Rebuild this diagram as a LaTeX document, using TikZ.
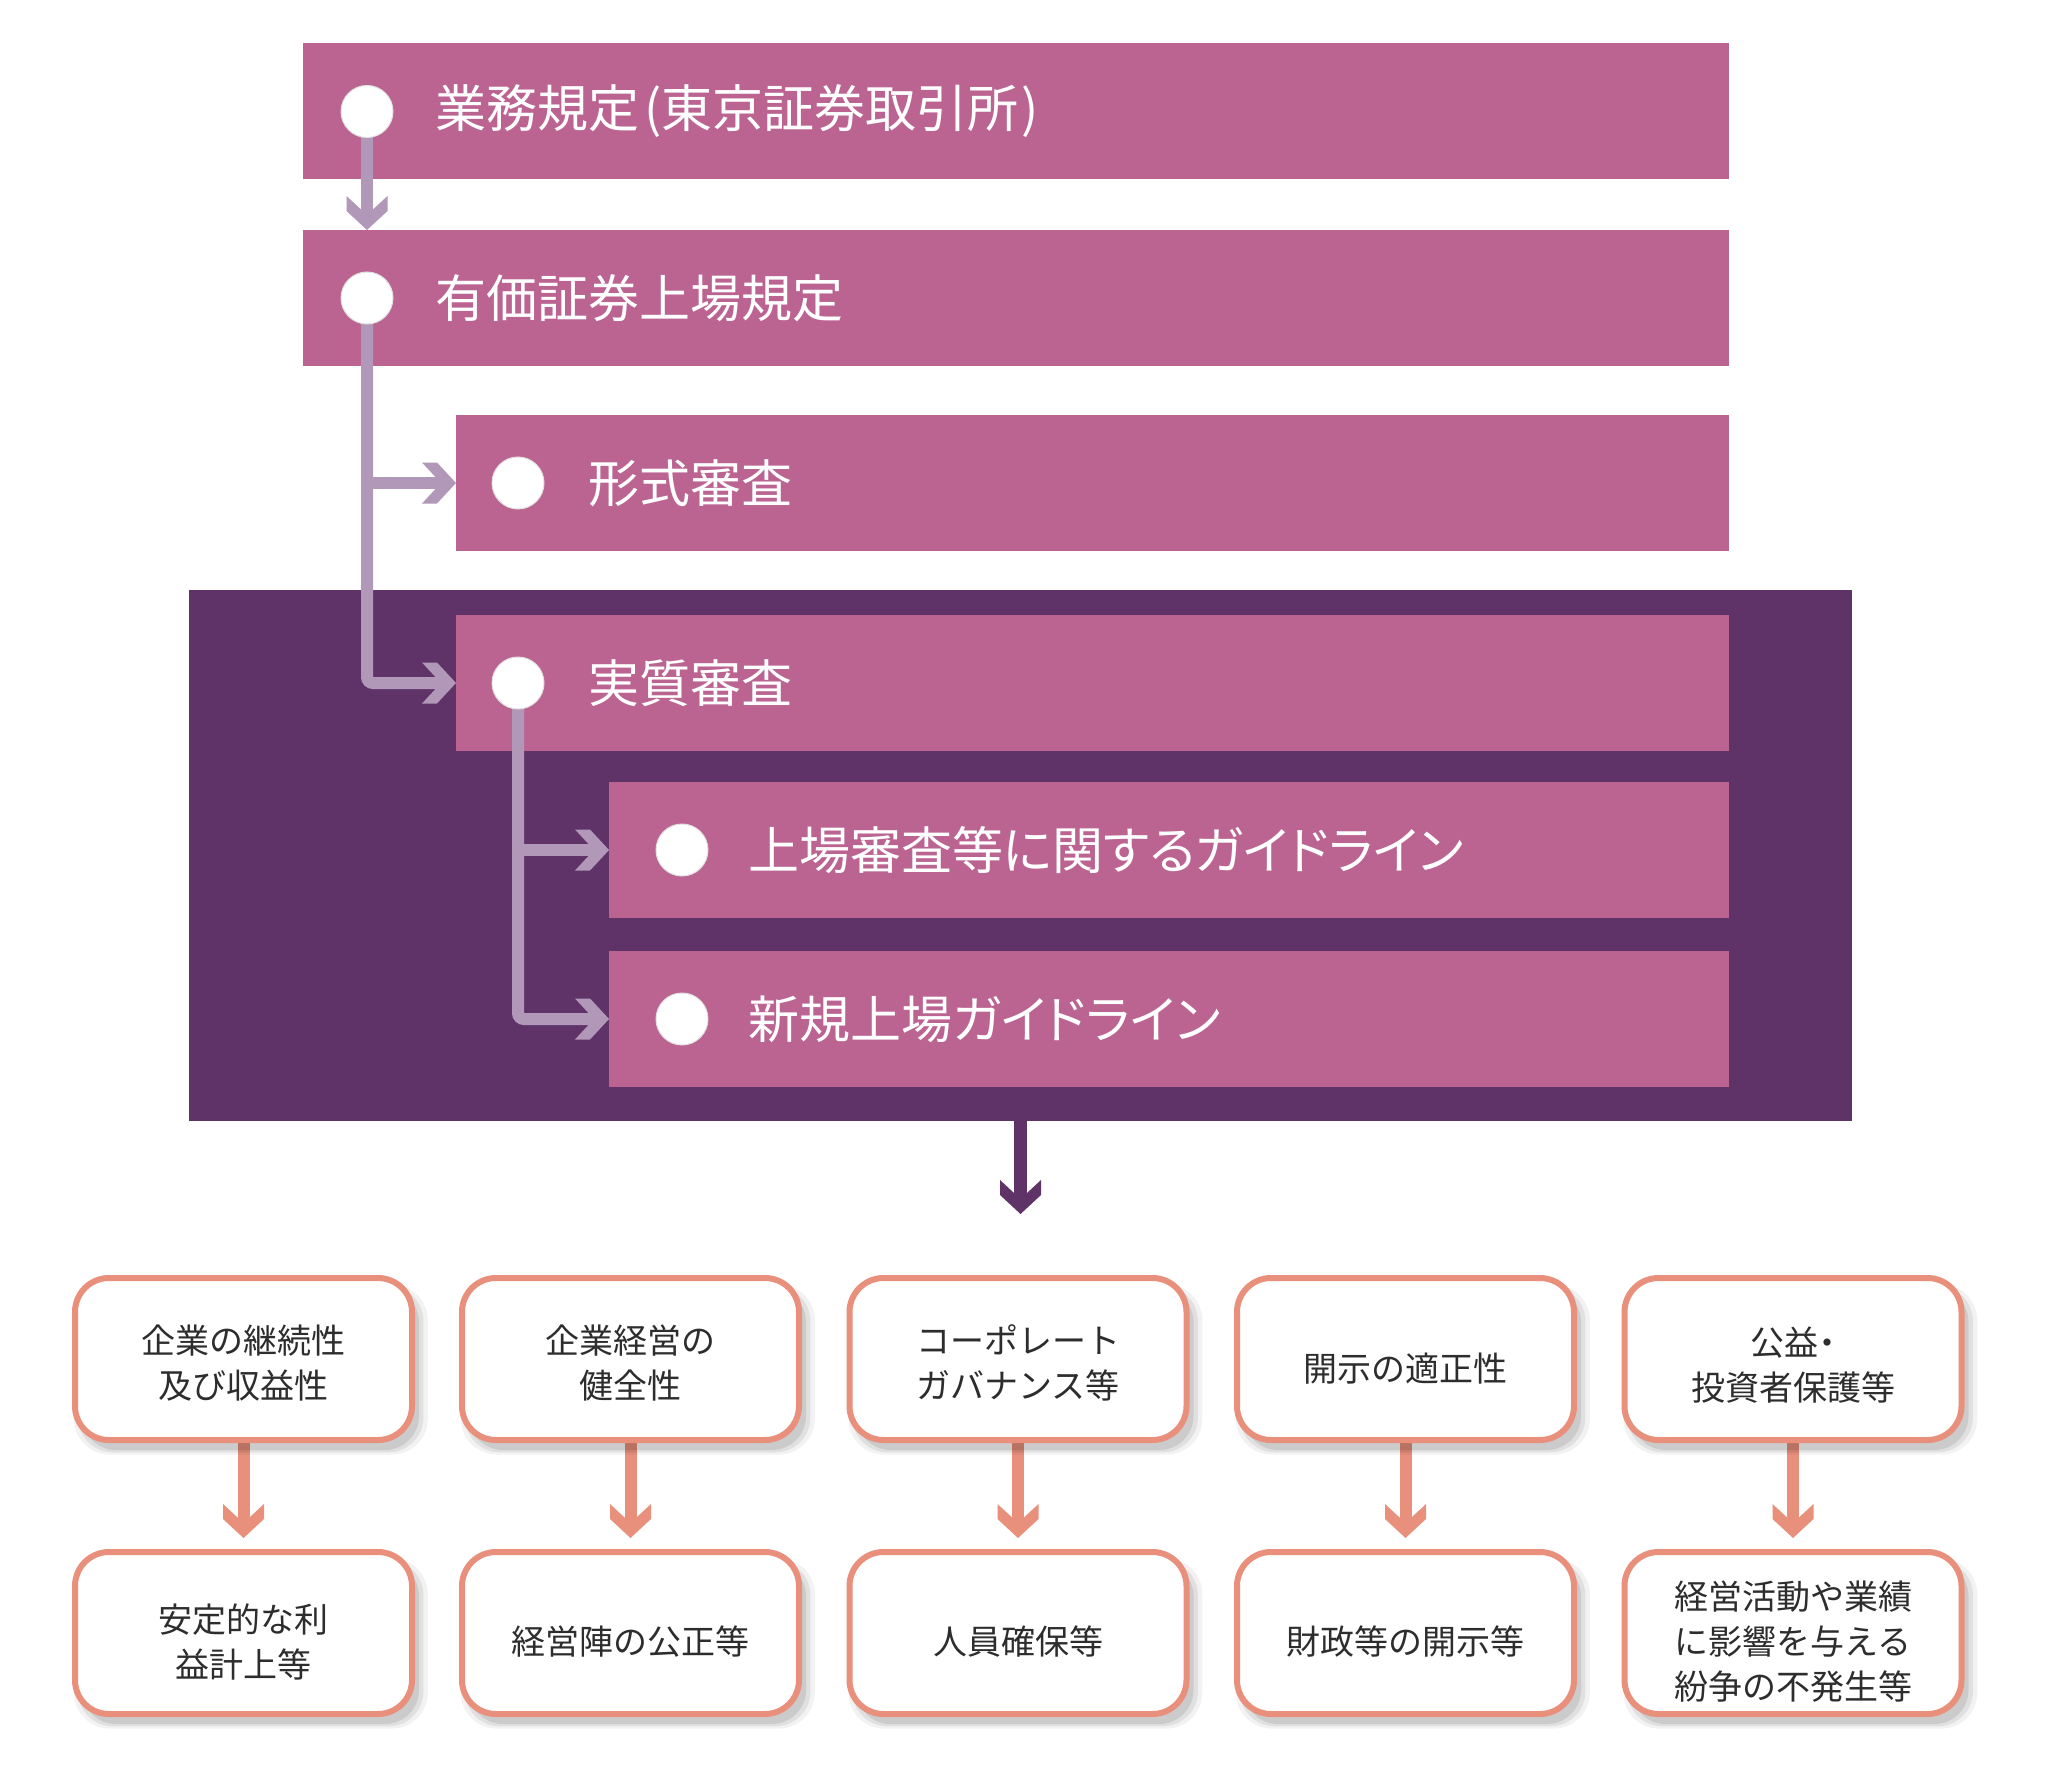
\documentclass[tikz,border=0pt]{standalone}
\usepackage{fontspec}
\setmainfont{Noto Sans CJK JP}
\usetikzlibrary{arrows.meta,shadows}
\pgfdeclarelayer{bg}
\pgfdeclarelayer{lines}
\pgfsetlayers{bg,lines,main}
\definecolor{pinkc}{RGB}{187,100,146}
\definecolor{darkc}{RGB}{96,51,104}
\definecolor{connc}{RGB}{178,152,184}
\definecolor{salmon}{RGB}{232,144,124}
\definecolor{txtc}{RGB}{45,45,45}
\newcommand{\paltx}{\addfontfeature{RawFeature=+palt}}
\pgfdeclarearrow{
  name = Chev,
  setup code = {
    \pgfarrowssettipend{0pt}
    \pgfarrowssetlineend{-15pt}
    \pgfarrowssetvisualbackend{-34pt}
    \pgfarrowsupperhullpoint{-34pt}{20.5pt}
    \pgfarrowsupperhullpoint{0pt}{0pt}
  },
  drawing code = {
    \pgfpathmoveto{\pgfpoint{0pt}{0pt}}
    \pgfpathlineto{\pgfpoint{-19pt}{20.5pt}}
    \pgfpathlineto{\pgfpoint{-34pt}{20.5pt}}
    \pgfpathlineto{\pgfpoint{-15pt}{0pt}}
    \pgfpathlineto{\pgfpoint{-34pt}{-20.5pt}}
    \pgfpathlineto{\pgfpoint{-19pt}{-20.5pt}}
    \pgfpathclose
    \pgfusepathqfill
  }
}
\begin{document}
\begin{tikzpicture}[x=1pt,y=-1pt,
  pbox/.style={fill=pinkc, inner sep=0pt, outer sep=0pt, minimum height=136pt, anchor=west},
  ptext/.style={anchor=west, inner sep=0pt, text=white, font=\fontsize{51}{60}\selectfont},
  dot/.style={circle, fill=white, draw=black!12, line width=1pt, minimum size=52pt, inner sep=0pt},
  conn/.style={draw=connc, line width=12pt, -Chev},
  darrow/.style={draw=darkc, line width=13pt, -Chev},
  sarrow/.style={draw=salmon, line width=12pt, -Chev, shorten >=11pt},
  softshadow/.style={
    general shadow={fill=black, opacity=0.05, shadow xshift=7pt, shadow yshift=-10pt, shadow scale=1.05},
    general shadow={fill=black, opacity=0.07, shadow xshift=7pt, shadow yshift=-10pt, shadow scale=1.025},
    general shadow={fill=black, opacity=0.09, shadow xshift=7pt, shadow yshift=-10pt}},
  sbox/.style={draw=salmon, line width=6pt, fill=white, rounded corners=34pt,
    minimum width=337pt, minimum height=162pt, softshadow},
  stext/.style={align=center, text=txtc, inner sep=0pt, font=\fontsize{34}{45}\selectfont}
]
\begin{pgfonlayer}{bg}
\fill[white] (0,0) rectangle (2048,1776);
\node[fill=darkc, inner sep=0pt, outer sep=0pt, minimum width=1663pt, minimum height=531pt] (dk) at (1020.5,855.5) {};
\node[pbox, minimum width=1426pt] (b1) at (303,111.5) {};
\node[pbox, minimum width=1426pt] (b2) at (303,298) {};
\node[pbox, minimum width=1273pt] (b3) at (456,483) {};
\node[pbox, minimum width=1273pt] (b4) at (456,683) {};
\node[pbox, minimum width=1120pt] (b5) at (609,850) {};
\node[pbox, minimum width=1120pt] (b6) at (609,1019) {};
\end{pgfonlayer}
\useasboundingbox (0,0) rectangle (2048,1776);

% circles and texts
\node[dot] (c1) at (367,111.5) {};
\node[dot] (c2) at (367,298) {};
\node[dot] (c3) at (518,483) {};
\node[dot] (c4) at (518,683) {};
\node[dot] (c5) at (682,850) {};
\node[dot] (c6) at (682,1019) {};
\node[ptext] (t1) at (435,111.5) {業務規定\kern5pt(東京証券取引所\kern3pt)};
\node[ptext] (t2) at (435,298) {有価証券上場規定};
\node[ptext] (t3) at (588,483) {形式審査};
\node[ptext] (t4) at (588,683) {実質審査};
\node[ptext, font=\fontsize{51}{60}\selectfont\paltx] (t5) at (748,850) {上場審査等に関するガイドライン};
\node[ptext, font=\fontsize{51}{60}\selectfont\paltx] (t6) at (748,1019) {新規上場ガイドライン};

% bottom boxes
\node[sbox] (u1) at (243.5,1359) {};
\node[sbox] (u2) at (630.5,1359) {};
\node[sbox] (u3) at (1018,1359) {};
\node[sbox] (u4) at (1405.5,1359) {};
\node[sbox] (u5) at (1793,1359) {};
\node[sbox] (l1) at (243.5,1633) {};
\node[sbox] (l2) at (630.5,1633) {};
\node[sbox] (l3) at (1018,1633) {};
\node[sbox] (l4) at (1405.5,1633) {};
\node[sbox] (l5) at (1793,1633) {};
\node[stext] (ut1) at ([yshift=-4pt]u1.center) {企業の継続性\\及び収益性};
\node[stext] (ut2) at ([yshift=-4pt]u2.center) {企業経営の\\健全性};
\node[stext] (ut3) at ([yshift=-4pt]u3.center) {コーポレート\\ガバナンス等};
\node[stext] (ut4) at ([yshift=-10pt]u4.center) {開示の適正性};
\node[stext] (ut5) at ([yshift=-6pt]u5.center) {{\paltx 公益・}\\投資者保護等};
\node[stext] (lt1) at ([yshift=-9pt]l1.center) {安定的な利\\益計上等};
\node[stext] (lt2) at ([yshift=-9pt]l2.center) {経営陣の公正等};
\node[stext] (lt3) at ([yshift=-9pt]l3.center) {人員確保等};
\node[stext] (lt4) at ([yshift=-9pt]l4.center) {財政等の開示等};
\node[stext] (lt5) at ([yshift=-9pt]l5.center) {経営活動や業績\\に影響を与える\\紛争の不発生等};

\coordinate (dend) at (1020.5,1214);

\begin{pgfonlayer}{lines}
\draw[conn] (c1.center) -- (c1.center |- b2.north);
\draw[conn, rounded corners=6pt] (c2.center) |- (b4.west);
\draw[conn] (c2.center |- b3.west) -- (b3.west);
\draw[conn, rounded corners=6pt] (c4.center) |- (b6.west);
\draw[conn] (c4.center |- b5.west) -- (b5.west);
\draw[darrow] (dk.south) -- (dend);
\draw[sarrow] (u1.south) -- (l1.north);
\draw[sarrow] (u2.south) -- (l2.north);
\draw[sarrow] (u3.south) -- (l3.north);
\draw[sarrow] (u4.south) -- (l4.north);
\draw[sarrow] (u5.south) -- (l5.north);
\end{pgfonlayer}
\end{tikzpicture}
\end{document}
